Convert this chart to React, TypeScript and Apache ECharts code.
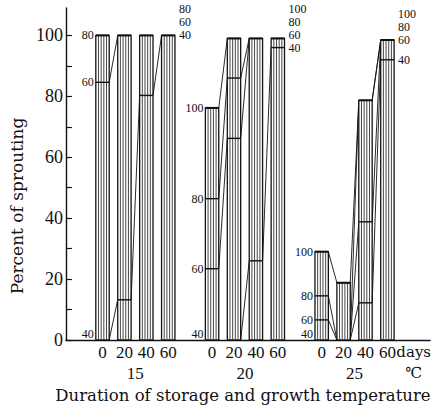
import React, { useEffect, useRef } from "react";
import * as echarts from "echarts";

// Storage temperatures (°C) and storage durations (days)
const temperatures = ["15", "20", "25"];
const storageDays = ["0", "20", "40", "60"];

// Growth periods (days) recorded at each temperature
const periods15 = ["40", "60", "80"];
const periods20 = ["40", "60", "80", "100"];
const periods25 = ["40", "60", "80", "100"];

// Cumulative sprouting (%) at each growth period, one value per storage duration
const sprout15_40 = [0, 13.2, 80.3, 100];
const sprout15_60 = [84.6, 100, 100, 100];
const sprout15_80 = [100, 100, 100, 100];

const sprout20_40 = [0, 0, 26, 96];
const sprout20_60 = [23.4, 66.2, 99, 99];
const sprout20_80 = [46.4, 86, 99, 99];
const sprout20_100 = [76.2, 99, 99, 99];

const sprout25_40 = [0, 0, 12.2, 92];
const sprout25_60 = [6.6, 0, 38.8, 98.5];
const sprout25_80 = [14.5, 0, 78.7, 98.5];
const sprout25_100 = [29, 18.8, 78.7, 98.5];

// Percent axis labels and ticks
const percentLabels = [0, 20, 40, 60, 80, 100];
const percentTicks = [0, 10, 20, 30, 40, 50, 60, 70, 80, 90, 100];

const groupPeriods = [periods15, periods20, periods25];
const groupSeries = [
  [sprout15_40, sprout15_60, sprout15_80],
  [sprout20_40, sprout20_60, sprout20_80, sprout20_100],
  [sprout25_40, sprout25_60, sprout25_80, sprout25_100],
];

type Bar = { slot: number; group: number; pos: number; values: number[]; labels: string[] };

// each temperature gets one slot per storage duration plus a gap slot
const SLOTS_PER_GROUP = storageDays.length + 1;
const bars: Bar[] = [];
temperatures.forEach((_, g) => {
  storageDays.forEach((_, j) => {
    bars.push({
      slot: g * SLOTS_PER_GROUP + j + 1,
      group: g,
      pos: j,
      values: groupSeries[g].map((s) => s[j]),
      labels: groupPeriods[g],
    });
  });
});
// unit captions sit just past the last bar slot
const unitSlot = temperatures.length * SLOTS_PER_GROUP + 0.2;

const dayLabelAt = new Map<number, string>();
bars.forEach((b) => dayLabelAt.set(b.slot, storageDays[b.pos]));
dayLabelAt.set(unitSlot, "{unit|days}");

const tempLabelAt = new Map<number, string>();
temperatures.forEach((t, g) => {
  tempLabelAt.set(g * SLOTS_PER_GROUP + 1 + (storageDays.length - 1) / 2, t);
});
tempLabelAt.set(unitSlot, "{unit|℃}");

const INK = "#111";
const NUM_FONT = "Liberation Serif";
const WORD_FONT = "DejaVu Serif";
const SMALL = 12;
const STACK_GAP = 13;

const renderBar = (_params: any, api: any) => {
  const bar = bars[api.value(2) as number];
  const next = bars.find((b) => b.group === bar.group && b.pos === bar.pos + 1);
  const last = bar.pos === storageDays.length - 1;
  const w = api.size([1, 0])[0] * 0.61;
  const pt = (slot: number, v: number) => api.coord([slot, v]);
  const [xc, yBase] = pt(bar.slot, 0);
  const x0 = xc - w / 2;
  const x1 = xc + w / 2;
  const top = Math.max(...bar.values);
  const yTop = pt(bar.slot, top)[1];
  const children: any[] = [];

  children.push({
    type: "rect",
    shape: { x: x0, y: yTop, width: w, height: yBase - yTop },
    style: { fill: "#fff", stroke: INK, lineWidth: 1.3 },
  });
  const hatch = 5;
  for (let k = 1; k < hatch; k++) {
    const x = x0 + (k * w) / hatch;
    children.push({
      type: "line",
      shape: { x1: x, y1: yTop, x2: x, y2: yBase },
      style: { stroke: "#333", lineWidth: 0.9 },
    });
  }
  children.push({
    type: "line",
    shape: { x1: x0, y1: yTop, x2: x1, y2: yTop },
    style: { stroke: INK, lineWidth: 2 },
  });
  bar.values.forEach((v) => {
    if (v > 0 && v < top) {
      const y = pt(bar.slot, v)[1];
      children.push({
        type: "line",
        shape: { x1: x0, y1: y, x2: x1, y2: y },
        style: { stroke: INK, lineWidth: 1.4 },
      });
    }
  });

  // lines joining the same growth period across storage durations
  if (next) {
    const nx0 = pt(next.slot, 0)[0] - w / 2;
    bar.values.forEach((v, k) => {
      const nv = next.values[k];
      if (v === nv) return;
      children.push({
        type: "line",
        shape: { x1: x1, y1: pt(bar.slot, v)[1], x2: nx0, y2: pt(next.slot, nv)[1] },
        style: { stroke: INK, lineWidth: 0.9 },
      });
    });
  }

  const label = (text: string, x: number, y: number, align: string) => ({
    type: "text",
    x,
    y,
    style: {
      text,
      fontFamily: NUM_FONT,
      fontSize: SMALL,
      fill: INK,
      align,
      verticalAlign: "middle",
    },
  });

  if (bar.pos === 0) {
    bar.values.forEach((v, k) => {
      const y = Math.min(pt(bar.slot, v)[1], yBase - 6);
      children.push(label(bar.labels[k], x0 - 2, y, "right"));
    });
  }
  if (last) {
    let prevY = Infinity;
    bar.values.forEach((v, k) => {
      let y = pt(bar.slot, v)[1];
      if (k > 0) y = Math.min(y, prevY - STACK_GAP);
      prevY = y;
      children.push(label(bar.labels[k], x1 + 4, y, "left"));
    });
  }
  return { type: "group", children };
};

const X_MIN = -0.67;
const X_MAX = 15.944;

export default function App() {
  const ref = useRef<HTMLDivElement>(null);
  useEffect(() => {
    if (!ref.current) return;
    const chart = echarts.init(ref.current, undefined, { renderer: "svg" });
    const axisLine = { show: true, onZero: false, lineStyle: { color: INK, width: 1.4 } };
    const unitStyle = { fontFamily: WORD_FONT, fontSize: 15, color: INK };
    chart.setOption({
      animation: false,
      backgroundColor: "#fff",
      grid: { left: 62, right: 6, top: 8, bottom: 71, containLabel: false },
      xAxis: [
        {
          type: "value",
          min: X_MIN,
          max: X_MAX,
          axisLine,
          axisTick: { show: false },
          splitLine: { show: false },
          axisLabel: {
            customValues: Array.from(dayLabelAt.keys()),
            formatter: (v: number) => dayLabelAt.get(v) ?? "",
            fontFamily: NUM_FONT,
            fontSize: 17,
            color: INK,
            margin: 4,
            hideOverlap: false,
            rich: { unit: unitStyle },
          },
        },
        {
          type: "value",
          min: X_MIN,
          max: X_MAX,
          position: "bottom",
          offset: 22,
          axisLine: { show: false },
          axisTick: { show: false },
          splitLine: { show: false },
          axisLabel: {
            customValues: Array.from(tempLabelAt.keys()),
            formatter: (v: number) => tempLabelAt.get(v) ?? "",
            fontFamily: NUM_FONT,
            fontSize: 17,
            color: INK,
            margin: 3,
            rich: { unit: unitStyle },
          },
          name: "Duration of storage and growth temperature",
          nameLocation: "middle",
          nameGap: 24,
          nameTextStyle: {
            fontFamily: WORD_FONT,
            fontSize: 16.5,
            color: INK,
            padding: [0, 10, 0, 0],
          },
        },
      ],
      yAxis: {
        type: "value",
        min: 0,
        max: 109,
        axisLine,
        axisTick: { show: true, inside: true, length: 6, customValues: percentTicks, lineStyle: { color: INK, width: 1.2 } },
        axisLabel: {
          customValues: percentLabels,
          fontFamily: NUM_FONT,
          fontSize: 18,
          color: INK,
          margin: 3,
        },
        splitLine: { show: false },
        name: "Percent of sprouting",
        nameLocation: "middle",
        nameGap: 33,
        nameTextStyle: {
          fontFamily: WORD_FONT,
          fontSize: 17,
          color: INK,
          padding: [0, 64, 0, 0],
        },
      },
      series: [
        {
          type: "custom",
          xAxisIndex: 0,
          yAxisIndex: 0,
          clip: false,
          renderItem: renderBar,
          encode: { x: 0, y: 1 },
          data: bars.map((b, i) => [b.slot, Math.max(...b.values), i]),
        },
      ],
    });
    return () => chart.dispose();
  }, []);
  return (
    <div
      ref={ref}
      style={{ position: "absolute", left: 0, top: 0, width: 436, height: 411, background: "#fff" }}
    />
  );
}
